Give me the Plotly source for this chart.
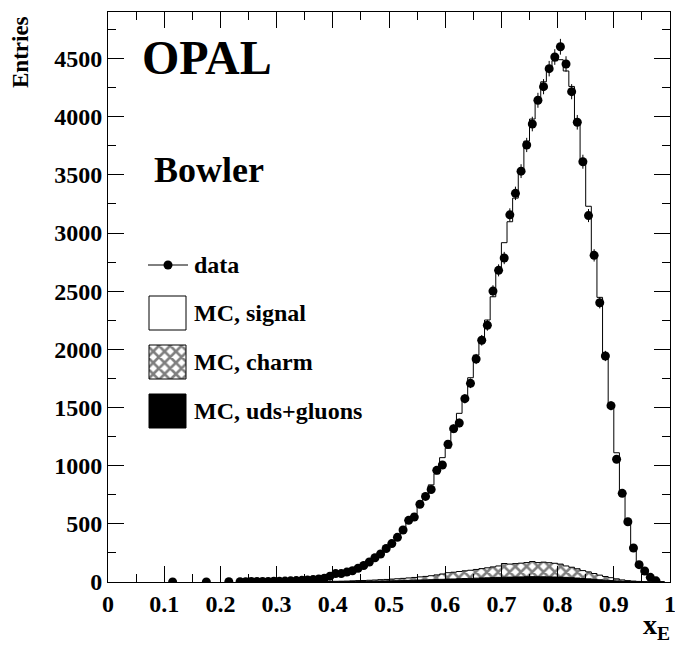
import numpy as np
import plotly.graph_objects as go

# ---- binning in x_E (0.01 wide bins starting at 0.23) ----
bin_lo = 0.23
bin_w = 0.01

# isolated low-x data entries
data_sparse_x = [0.115, 0.175, 0.215]
data_sparse = [1, 1, 2]

# data counts, bins 0.23 ... 0.98
data_counts = [
    3, 3, 4, 4, 5, 5, 6, 7, 8, 10, 12, 14, 17, 21, 26, 32, 50,
    72, 72, 85, 97, 118, 142, 172, 208, 241, 288,
    330, 384, 447, 530, 558, 668, 736, 795, 960, 1006,
    1184, 1318, 1367, 1576, 1708, 1917, 2078, 2207, 2501, 2679,
    2785, 3156, 3341, 3532, 3757, 3937, 4141, 4258, 4413, 4513,
    4601, 4453, 4215, 3952, 3613, 3150, 2808, 2401, 1943, 1516,
    1055, 762, 518, 292, 149, 95, 40, 10,
]

# MC components, bins 0.23 ... 0.99
mc_signal = [
    3, 3, 4, 4, 5, 6, 6, 7, 8, 10, 12, 15,
    17, 20, 24, 30, 37, 48, 59, 72, 86, 104, 127, 153, 183, 218, 260,
    305, 357, 416, 480, 546, 616, 694, 781, 869, 1000,
    1070, 1206, 1360, 1464, 1655, 1843, 1965, 2130, 2322, 2562,
    2758, 2943, 3142, 3358, 3623, 3804, 3953, 4129, 4234, 4319,
    4336, 4255, 4133, 3846, 3522, 3143, 2717, 2388, 1913, 1483,
    1084, 742, 488, 282, 145, 77, 33, 12, 3,
]
mc_charm = [
    0, 0, 0, 0, 0, 0, 0, 0, 0, 0, 0, 0,
    1, 1, 2, 2, 3, 4, 4, 5, 6, 7, 8, 9, 10, 12, 13,
    15, 17, 19, 21, 24, 27, 30, 34, 40, 46,
    55, 58, 62, 66, 70, 75, 80, 86, 92, 98,
    118, 112, 115, 118, 122, 130, 122, 126, 122, 118,
    112, 98, 90, 80, 68, 60, 50, 40, 32, 25,
    18, 12, 8, 5, 3, 2, 1, 0, 0,
]
mc_uds = [
    0, 0, 0, 0, 0, 0, 0, 0, 0, 0, 0, 0,
    0, 1, 1, 1, 2, 2, 3, 3, 4, 5, 5, 6, 7, 8, 9,
    10, 11, 12, 14, 15, 17, 18, 20, 21, 23,
    25, 26, 28, 30, 31, 33, 35, 36, 38, 40,
    41, 42, 43, 44, 45, 46, 45, 45, 44, 43,
    42, 40, 37, 34, 30, 27, 23, 19, 15, 12,
    9, 6, 4, 3, 2, 1, 1, 0, 0,
]

legend_labels = ["data", "MC, signal", "MC, charm", "MC, uds+gluons"]

x_tick_vals = [0, 0.1, 0.2, 0.3, 0.4, 0.5, 0.6, 0.7, 0.8, 0.9, 1.0]
x_tick_text = ["0", "0.1", "0.2", "0.3", "0.4", "0.5", "0.6", "0.7", "0.8", "0.9", "1"]

# ---- frame geometry (pixels) ----
W, H = 675, 645
L, R, T, B = 108, 5, 12, 63
PX0, PX1 = L, W - R
PY0, PY1 = H - B, T


def px_x(p):
    return (p - PX0) / (PX1 - PX0)


def px_y(p):
    return (PY0 - p) / (PY0 - PY1)


n_mc = len(mc_signal)
edges = np.round(bin_lo + bin_w * np.arange(n_mc + 1), 4)
centers = np.round(bin_lo + bin_w * (np.arange(len(data_counts)) + 0.5), 4)


def step(values):
    xs = [edges[0]] + list(edges)
    ys = [0] + list(values) + [0]
    return xs, ys


uds = np.array(mc_uds, float)
charm_stack = uds + np.array(mc_charm, float)
total_stack = charm_stack + np.array(mc_signal, float)

FONT = "Liberation Serif"
HATCH = dict(shape="x", fgcolor="black", bgcolor="white", size=8, solidity=0.55)
fig = go.Figure()

# stacked MC: signal on top of charm on top of uds
xs, ys = step(total_stack)
fig.add_trace(go.Scatter(x=xs, y=ys, mode="lines", line=dict(color="black", width=1, shape="hv"),
                         fill="tozeroy", fillcolor="white", hoverinfo="skip", showlegend=False))
xs, ys = step(charm_stack)
fig.add_trace(go.Scatter(x=xs, y=ys, mode="lines", line=dict(color="black", width=1, shape="hv"),
                         fill="tozeroy", fillpattern=HATCH, hoverinfo="skip", showlegend=False))
xs, ys = step(uds)
fig.add_trace(go.Scatter(x=xs, y=ys, mode="lines", line=dict(color="black", width=1, shape="hv"),
                         fill="tozeroy", fillcolor="black", hoverinfo="skip", showlegend=False))

# data points with statistical errors
all_x = list(data_sparse_x) + list(centers)
all_y = list(data_sparse) + list(data_counts)
fig.add_trace(go.Scatter(x=all_x, y=all_y, mode="markers",
                         marker=dict(symbol="circle", size=9, color="black"),
                         error_y=dict(type="data", array=np.sqrt(all_y), thickness=1, width=0, color="black"),
                         showlegend=False))

# ---- hand-placed legend on a pixel-coordinate overlay ----
ov = dict(xaxis="x2", yaxis="y2", showlegend=False, hoverinfo="skip")
fig.add_trace(go.Scatter(x=[148, 188], y=[265, 265], mode="lines", line=dict(color="black", width=1), **ov))
fig.add_trace(go.Scatter(x=[168], y=[265], mode="markers", marker=dict(size=9, color="black"), **ov))
box_x = [149, 186, 186, 149, 149]
rows = [313, 362, 411]


def box_y(yc):
    return [yc - 17, yc - 17, yc + 17, yc + 17, yc - 17]


fig.add_trace(go.Scatter(x=box_x, y=box_y(rows[0]), mode="lines", fill="toself", fillcolor="white",
                         line=dict(color="black", width=1), **ov))
fig.add_trace(go.Scatter(x=box_x, y=box_y(rows[1]), mode="lines", fill="toself", fillpattern=HATCH,
                         line=dict(color="black", width=1), **ov))
fig.add_trace(go.Scatter(x=box_x, y=box_y(rows[2]), mode="lines", fill="toself", fillcolor="black",
                         line=dict(color="black", width=1), **ov))

annotations = []
for lbl, yy in zip(legend_labels, [265] + rows):
    annotations.append(dict(x=px_x(192), y=px_y(yy), xref="paper", yref="paper", text=lbl,
                            showarrow=False, xanchor="left", yanchor="middle",
                            font=dict(family=FONT, size=24, color="black", weight="bold")))
annotations.append(dict(x=px_x(140), y=px_y(57), xref="paper", yref="paper", text="OPAL",
                        showarrow=False, xanchor="left", yanchor="middle",
                        font=dict(family=FONT, size=48, color="black", weight="bold")))
annotations.append(dict(x=px_x(152), y=px_y(170), xref="paper", yref="paper", text="Bowler",
                        showarrow=False, xanchor="left", yanchor="middle",
                        font=dict(family=FONT, size=36, color="black", weight="bold")))
annotations.append(dict(x=px_x(20), y=px_y(52), xref="paper", yref="paper", text="Entries",
                        showarrow=False, xanchor="center", yanchor="middle", textangle=-90,
                        font=dict(family=FONT, size=23, color="black", weight="bold")))
annotations.append(dict(x=px_x(672), y=px_y(646), xref="paper", yref="paper", text="x<sub>E</sub>",
                        showarrow=False, xanchor="right", yanchor="bottom",
                        font=dict(family=FONT, size=28, color="black", weight="bold")))

axis_common = dict(showline=True, linecolor="black", linewidth=1, mirror="ticks",
                   ticks="inside", ticklen=16, tickwidth=1, tickcolor="black",
                   showgrid=False, zeroline=False, automargin=False,
                   tickfont=dict(family=FONT, size=24, color="black", weight="bold"))

fig.update_layout(
    width=W, height=H, autosize=False,
    margin=dict(l=L, r=R, t=T, b=B, pad=0, autoexpand=False),
    paper_bgcolor="white", plot_bgcolor="white",
    font=dict(family=FONT, color="black"),
    xaxis=dict(range=[0, 1], tickmode="array", tickvals=x_tick_vals, ticktext=x_tick_text,
               ticklabeloverflow="allow",
               minor=dict(tickmode="linear", tick0=0, dtick=0.05, ticklen=8, ticks="inside",
                          tickcolor="black"),
               **axis_common),
    yaxis=dict(range=[0, 4900], tickmode="linear", tick0=0, dtick=500,
               minor=dict(dtick=250, ticklen=8, ticks="inside", tickcolor="black"),
               **axis_common),
    xaxis2=dict(range=[PX0, PX1], overlaying="x", visible=False),
    yaxis2=dict(range=[PY0, PY1], overlaying="y", visible=False),
    annotations=annotations,
    showlegend=False,
)

fig.write_html("out.html")
